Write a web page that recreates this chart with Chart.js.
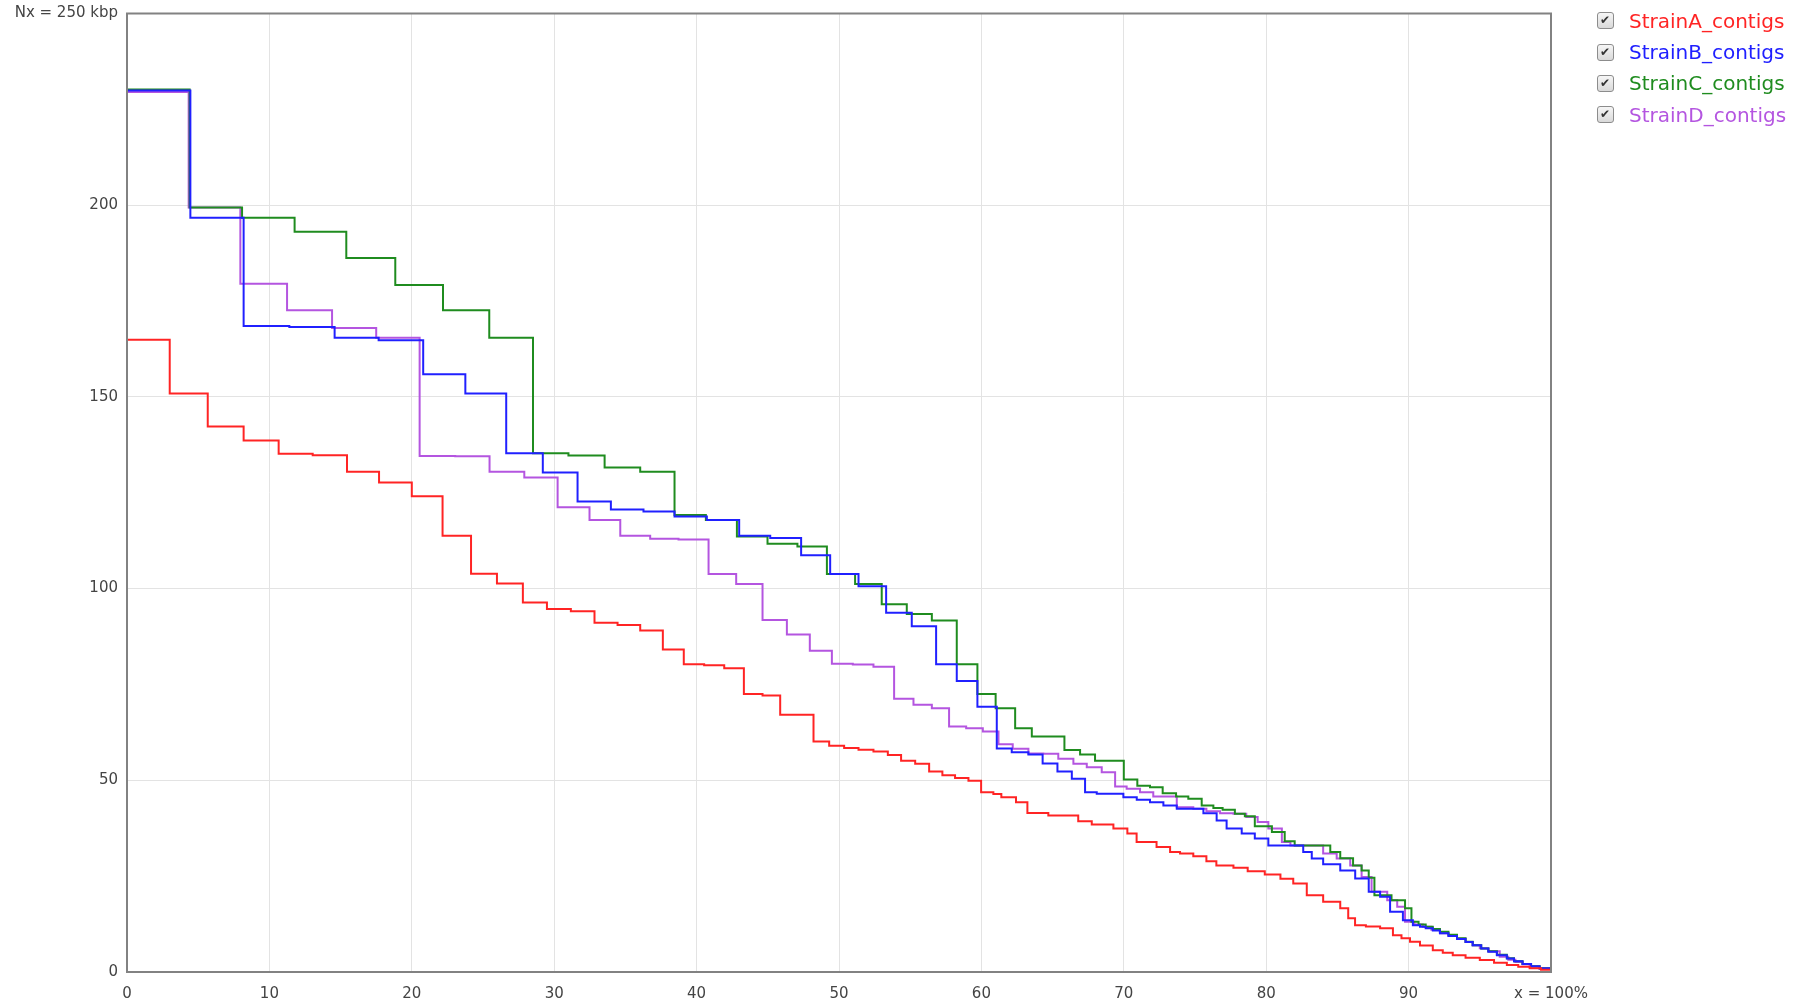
<!DOCTYPE html>
<html>
<head>
<meta charset="utf-8">
<title>Nx plot</title>
<script src="https://cdn.jsdelivr.net/npm/chart.js@4.4.0/dist/chart.umd.min.js"></script>
<style>
    html, body { margin: 0; padding: 0; background: #fff; }
    body { font-family: "DejaVu Sans", Verdana, sans-serif; }
    #wrap { position: relative; width: 1804px; height: 1003px; }
    #chart { position: absolute; left: 0; top: 0; }
    #legend { position: absolute; left: 1597px; top: 5px; }
    .item { display: flex; align-items: center; height: 31.4px; font-size: 20px; white-space: nowrap; }
    .item input {
        appearance: none; -webkit-appearance: none;
        position: relative; box-sizing: border-box;
        width: 17px; height: 17px; margin: 0 15px 0 0;
        border: 1px solid #8c8c8c; border-radius: 3px;
        background: linear-gradient(#f6f6f6, #d9d9d9);
        cursor: pointer;
    }
    .item input:checked::after {
        content: '\2714'; position: absolute; left: 2px; top: -1px;
        font-size: 12px; line-height: 16px; color: #333;
    }
</style>
</head>
<body>
<div id="wrap">
    <canvas id="chart" width="1804" height="1003"></canvas>
    <div id="legend"></div>
</div>
<script>
const strainNames = ['StrainA_contigs', 'StrainB_contigs', 'StrainC_contigs', 'StrainD_contigs']
const strainColors = ['#ff2424', '#2020ff', '#1f8c1f', '#b455e0']

// x = % of assembly, y = Nx in kbp (value after each step)
const strainAX = [0, 3.0, 5.67, 8.19, 10.65, 13.04, 15.45, 17.7, 20.0, 22.16,
    24.16, 25.98, 27.8, 29.49, 31.17, 32.83, 34.45, 36.04, 37.63, 39.1,
    40.53, 41.94, 43.32, 44.63, 45.87, 48.21, 49.31, 50.36, 51.37, 52.42,
    53.43, 54.36, 55.35, 56.33, 57.26, 58.15, 59.09, 59.98, 60.84, 61.4,
    62.43, 63.23, 64.7, 66.8, 67.75, 69.27, 70.25, 70.9, 72.3, 73.25,
    73.95, 74.88, 75.8, 76.5, 77.7, 78.7, 79.9, 81.0, 81.9, 82.85,
    84.0, 85.2, 85.76, 86.24, 87.0, 88.0, 88.9, 89.5, 90.1, 90.8,
    91.7, 92.4, 93.1, 94.0, 95.0, 96.0, 96.9, 97.7, 98.5, 99.3,
    100]
const strainAY = [164.9, 150.9, 142.3, 138.6, 135.2, 134.8, 130.5, 127.7, 124.1, 113.8,
    103.9, 101.3, 96.4, 94.7, 94.1, 91.1, 90.5, 89.1, 84.1, 80.3,
    80.0, 79.2, 72.5, 72.1, 67.1, 60.1, 59.0, 58.4, 58.0, 57.5,
    56.6, 55.1, 54.3, 52.3, 51.3, 50.6, 49.9, 46.9, 46.4, 45.6,
    44.3, 41.5, 40.8, 39.3, 38.5, 37.4, 36.1, 33.9, 32.6, 31.3,
    30.9, 30.2, 28.9, 27.8, 27.2, 26.3, 25.4, 24.3, 23.1, 20.0,
    18.3, 16.6, 14.0, 12.2, 11.9, 11.4, 9.6, 8.8, 7.9, 6.9,
    5.7, 5.0, 4.4, 3.7, 3.1, 2.4, 1.8, 1.4, 1.0, 0.6,
    0.3]

const strainBX = [0, 4.45, 8.19, 11.4, 14.58, 17.67, 20.8, 23.76, 26.63, 29.2,
    31.64, 33.98, 36.27, 38.45, 40.72, 42.99, 45.17, 47.34, 49.38, 51.37,
    53.31, 55.11, 56.82, 58.27, 59.72, 61.08, 62.13, 63.3, 64.3, 65.34,
    66.35, 67.28, 68.1, 69.97, 70.91, 71.84, 72.78, 73.72, 75.59, 76.52,
    77.22, 78.28, 79.2, 80.15, 82.6, 83.2, 84.0, 85.2, 86.25, 87.2,
    88.0, 88.7, 89.6, 90.3, 90.8, 91.2, 91.7, 92.2, 92.8, 93.4,
    94.0, 94.5, 95.1, 95.6, 96.2, 96.9, 97.4, 98.0, 98.6, 99.2,
    100]
const strainBY = [229.9, 196.7, 168.5, 168.2, 165.4, 164.8, 155.9, 150.9, 135.3, 130.3,
    122.7, 120.6, 120.1, 118.8, 117.9, 113.8, 113.2, 108.7, 103.8, 100.6,
    93.7, 90.2, 80.3, 75.9, 69.2, 58.3, 57.3, 56.7, 54.4, 52.3,
    50.4, 46.9, 46.5, 45.6, 44.9, 44.3, 43.4, 42.6, 41.4, 39.5,
    37.4, 36.1, 34.8, 33.0, 31.3, 29.6, 28.1, 26.5, 24.4, 20.9,
    19.6, 15.7, 13.5, 12.2, 11.8, 11.4, 10.8, 10.1, 9.4, 8.6,
    7.8, 7.0, 6.1, 5.3, 4.4, 3.5, 2.8, 2.1, 1.5, 1.0,
    0.3]

const strainCX = [0, 4.4, 8.08, 11.77, 15.4, 18.84, 22.19, 25.44, 28.51, 31.0,
    33.54, 36.04, 38.45, 40.65, 42.83, 44.98, 47.08, 49.15, 51.13, 53.0,
    54.76, 56.52, 58.27, 59.72, 61.0, 62.37, 63.54, 65.83, 66.93, 67.98,
    70.0, 70.95, 71.84, 72.73, 73.67, 74.53, 75.47, 76.29, 76.94, 77.8,
    78.5, 79.2, 80.4, 81.3, 82.0, 84.5, 85.2, 86.1, 86.7, 87.2,
    87.6, 88.8, 89.75, 90.2, 90.7, 91.2, 91.7, 92.2, 92.8, 93.4,
    94.0, 94.5, 95.1, 95.6, 96.2, 96.9, 97.4, 98.0, 98.6, 99.2,
    100]
const strainCY = [230.2, 199.4, 196.7, 193.1, 186.2, 179.2, 172.6, 165.4, 135.3, 134.7,
    131.6, 130.5, 119.2, 117.9, 113.6, 111.7, 111.0, 103.8, 101.2, 95.9,
    93.4, 91.7, 80.3, 72.5, 68.8, 63.6, 61.4, 57.9, 56.7, 55.1,
    50.2, 48.6, 48.2, 46.6, 45.8, 45.2, 43.4, 42.8, 42.3, 41.3,
    40.6, 38.0, 36.5, 34.1, 33.0, 31.3, 29.7, 27.8, 26.5, 24.6,
    20.0, 18.7, 16.6, 13.1, 12.4, 11.8, 11.2, 10.5, 9.7, 8.8,
    7.9, 7.0, 6.1, 5.4, 4.5, 3.6, 2.8, 2.1, 1.5, 1.0,
    0.3]

const strainDX = [0, 4.33, 7.96, 11.24, 14.4, 17.5, 20.55, 23.05, 25.46, 27.9,
    30.24, 32.48, 34.64, 36.74, 38.73, 40.84, 42.78, 44.63, 46.34, 47.95,
    49.5, 50.97, 52.42, 53.87, 55.23, 56.52, 57.73, 58.93, 60.1, 61.2,
    62.2, 63.3, 64.35, 65.4, 66.46, 67.4, 68.45, 69.39, 70.2, 71.14,
    72.07, 73.72, 74.88, 75.8, 76.76, 77.7, 78.6, 79.4, 80.15, 81.1,
    81.7, 84.0, 84.95, 85.9, 86.7, 87.4, 88.5, 89.2, 89.75, 90.4,
    91.0, 91.6, 92.2, 92.8, 93.4, 94.0, 94.5, 95.0, 95.6, 96.4,
    97.0, 97.5, 98.0, 98.5, 99.2, 100]
const strainDY = [229.5, 199.4, 179.5, 172.6, 168.0, 165.4, 134.6, 134.5, 130.5, 129.0,
    121.2, 117.9, 113.8, 113.0, 112.8, 103.8, 101.2, 91.8, 88.0, 83.8,
    80.4, 80.2, 79.6, 71.3, 69.7, 68.8, 64.0, 63.6, 62.7, 59.4,
    58.2, 57.0, 56.9, 55.6, 54.3, 53.4, 52.1, 48.4, 47.8, 46.9,
    45.8, 43.0, 42.6, 41.9, 41.4, 41.3, 40.4, 39.1, 37.4, 33.9,
    33.0, 30.9, 29.6, 27.8, 24.8, 20.9, 18.7, 17.0, 13.1, 12.4,
    11.8, 11.0, 10.1, 9.4, 8.7, 7.8, 7.0, 6.2, 5.4, 4.0,
    3.2, 2.6, 2.0, 1.4, 0.8, 0.3]

const xMax = 100
const yMax = 250
const xEndLabel = 'x = 100%'
const yEndLabel = 'Nx = 250 kbp'

const seriesX = [strainAX, strainBX, strainCX, strainDX]
const seriesY = [strainAY, strainBY, strainCY, strainDY]

function toPoints(xs, ys) {
    return xs.map((x, i) => ({ x: x, y: ys[i] }))
}

const tickFont = { family: 'DejaVu Sans', size: 15 }

// gray box around the plot area
const framePlugin = {
    id: 'frame',
    afterDatasetsDraw(chart) {
        const { ctx, chartArea: a } = chart
        ctx.save()
        ctx.strokeStyle = '#828282'
        ctx.lineWidth = 2
        ctx.strokeRect(a.left, a.top, a.right - a.left, a.bottom - a.top)
        ctx.restore()
    }
}

const chart = new Chart(document.getElementById('chart'), {
    type: 'line',
    data: {
        datasets: strainNames.map((name, i) => ({
            label: name,
            data: toPoints(seriesX[i], seriesY[i]),
            borderColor: strainColors[i],
            backgroundColor: strainColors[i],
            borderWidth: 2,
            pointRadius: 0,
            pointHoverRadius: 0,
            stepped: 'before',
            fill: false
        }))
    },
    options: {
        responsive: false,
        animation: false,
        layout: { padding: { top: 13.5, right: 253, bottom: 0, left: 0 } },
        interaction: { mode: 'nearest', intersect: false },
        plugins: {
            legend: { display: false },
            tooltip: { enabled: true }
        },
        scales: {
            x: {
                type: 'linear',
                min: 0,
                max: xMax,
                afterFit: s => {
                    s.height = 31
                    s.paddingLeft = 0
                    s.paddingRight = 0
                },
                border: { display: false },
                grid: { color: '#e3e3e3', drawTicks: false },
                ticks: {
                    stepSize: 10,
                    padding: 13,
                    color: '#444',
                    font: tickFont,
                    maxRotation: 0,
                    autoSkip: false,
                    callback: v => v === xMax ? xEndLabel : v
                }
            },
            y: {
                min: 0,
                max: yMax,
                afterFit: s => {
                    s.width = 127
                    s.paddingTop = 0
                    s.paddingBottom = 0
                },
                border: { display: false },
                grid: { color: '#e3e3e3', drawTicks: false },
                ticks: {
                    stepSize: 50,
                    padding: 9,
                    color: '#444',
                    font: tickFont,
                    callback: v => v === yMax ? yEndLabel : v
                }
            }
        }
    },
    plugins: [framePlugin]
})

const legend = document.getElementById('legend')
strainNames.forEach((name, i) => {
    const row = document.createElement('label')
    row.className = 'item'
    row.style.color = strainColors[i]
    const box = document.createElement('input')
    box.type = 'checkbox'
    box.checked = true
    box.addEventListener('change', () => {
        chart.setDatasetVisibility(i, box.checked)
        chart.update()
    })
    row.appendChild(box)
    row.appendChild(document.createTextNode(name))
    legend.appendChild(row)
})
</script>
</body>
</html>
